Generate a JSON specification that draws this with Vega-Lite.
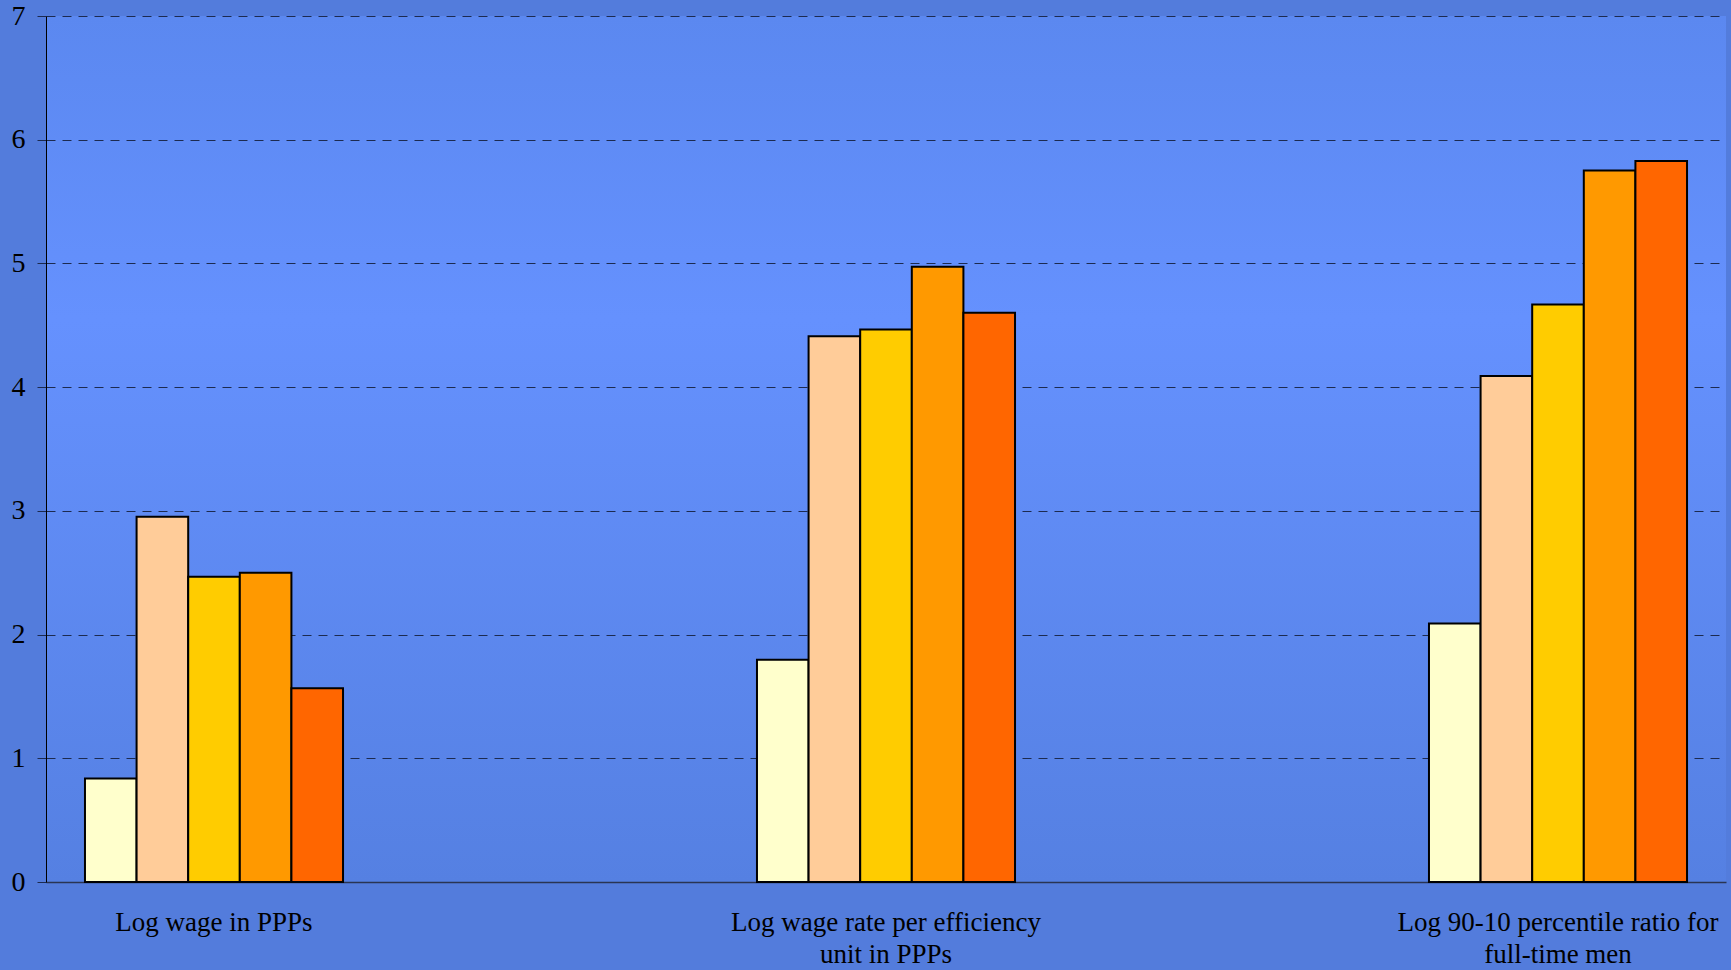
{
  "$schema": "https://vega.github.io/schema/vega-lite/v6.json",
  "autosize": {"type": "none"},
  "padding": {"left": 46, "top": 16, "right": 5, "bottom": 88},
  "width": 1680,
  "height": 866,
  "background": "#537CDC",
  "config": {
    "view": {
      "stroke": null,
      "fill": {
        "gradient": "linear",
        "x1": 0, "y1": 0, "x2": 0, "y2": 1,
        "stops": [
          {"offset": 0, "color": "#5B88F0"},
          {"offset": 0.35, "color": "#6591FE"},
          {"offset": 1, "color": "#5580E2"}
        ]
      }
    },
    "font": "Liberation Serif"
  },
  "data": {
    "values": [
      {"category": "Log wage in PPPs", "series": "S1", "value": 0.836},
      {"category": "Log wage in PPPs", "series": "S2", "value": 2.953},
      {"category": "Log wage in PPPs", "series": "S3", "value": 2.468},
      {"category": "Log wage in PPPs", "series": "S4", "value": 2.5},
      {"category": "Log wage in PPPs", "series": "S5", "value": 1.567},
      {"category": "Log wage rate per efficiency unit in PPPs", "series": "S1", "value": 1.796},
      {"category": "Log wage rate per efficiency unit in PPPs", "series": "S2", "value": 4.412},
      {"category": "Log wage rate per efficiency unit in PPPs", "series": "S3", "value": 4.466},
      {"category": "Log wage rate per efficiency unit in PPPs", "series": "S4", "value": 4.973},
      {"category": "Log wage rate per efficiency unit in PPPs", "series": "S5", "value": 4.601},
      {"category": "Log 90-10 percentile ratio for full-time men", "series": "S1", "value": 2.09},
      {"category": "Log 90-10 percentile ratio for full-time men", "series": "S2", "value": 4.09},
      {"category": "Log 90-10 percentile ratio for full-time men", "series": "S3", "value": 4.668},
      {"category": "Log 90-10 percentile ratio for full-time men", "series": "S4", "value": 5.752},
      {"category": "Log 90-10 percentile ratio for full-time men", "series": "S5", "value": 5.827}
    ]
  },
  "mark": {"type": "bar", "stroke": "#000000", "strokeWidth": 2, "strokeJoin": "miter"},
  "encoding": {
    "x": {
      "field": "category",
      "type": "nominal",
      "sort": null,
      "scale": {"type": "band", "paddingInner": 0.616, "paddingOuter": 0.058},
      "axis": {
        "title": null,
        "labelAngle": 0,
        "ticks": false,
        "domain": true,
        "domainColor": "#2A3452",
        "domainWidth": 1.5,
        "labelPadding": 27,
        "labelFontSize": 27,
        "labelFont": "Liberation Serif",
        "labelColor": "#000000",
        "labelBaseline": "top",
        "labelLineHeight": 32,
        "labelLimit": 0,
        "labelExpr": "datum.value == 'Log wage rate per efficiency unit in PPPs' ? ['Log wage rate per efficiency', 'unit in PPPs'] : datum.value == 'Log 90-10 percentile ratio for full-time men' ? ['Log 90-10 percentile ratio for', 'full-time men'] : datum.value"
      }
    },
    "xOffset": {
      "field": "series",
      "type": "nominal",
      "scale": {"paddingInner": 0, "paddingOuter": 0}
    },
    "y": {
      "field": "value",
      "type": "quantitative",
      "scale": {"domain": [0, 7], "nice": false},
      "axis": {
        "title": null,
        "values": [0, 1, 2, 3, 4, 5, 6, 7],
        "format": "d",
        "grid": true,
        "gridColor": "#1C2A50",
        "gridDash": [9, 7],
        "gridWidth": 1,
        "tickSize": 9,
        "tickColor": "#1C2A50",
        "tickWidth": 1,
        "domainColor": "#000000",
        "domainWidth": 1,
        "labelPadding": 12,
        "labelFontSize": 28,
        "labelFont": "Liberation Serif",
        "labelColor": "#000000"
      }
    },
    "color": {
      "field": "series",
      "type": "nominal",
      "scale": {
        "domain": ["S1", "S2", "S3", "S4", "S5"],
        "range": ["#FFFFCC", "#FFCC99", "#FFCC00", "#FF9900", "#FF6600"]
      },
      "legend": null
    }
  }
}
